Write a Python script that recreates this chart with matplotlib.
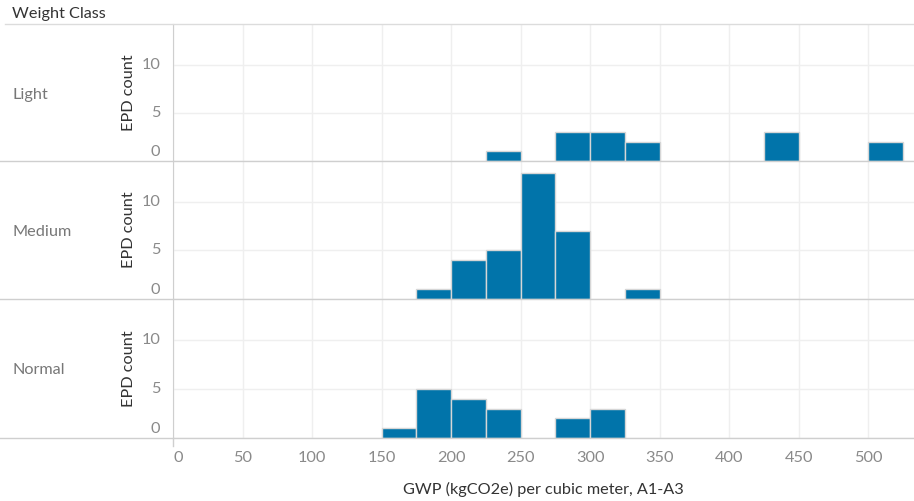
import matplotlib
matplotlib.use('Agg')
import matplotlib.pyplot as plt
from matplotlib.lines import Line2D

# bin starts (width 25) and counts per weight class
classes = ['Light', 'Medium', 'Normal']
light_bins = [225, 275, 300, 325, 425, 500]
light_counts = [1, 3, 3, 2, 3, 2]
medium_bins = [175, 200, 225, 250, 275, 325]
medium_counts = [1, 4, 5, 13, 7, 1]
normal_bins = [150, 175, 200, 225, 275, 300]
normal_counts = [1, 5, 4, 3, 2, 3]
x_ticks = list(range(0, 501, 50))
y_ticks = [0, 5, 10]

data = [(light_bins, light_counts), (medium_bins, medium_counts), (normal_bins, normal_counts)]

plt.rcParams['font.family'] = ['Lato', 'DejaVu Sans']

W, H = 914, 501
fig = plt.figure(figsize=(W / 100, H / 100), dpi=100)

bar_color = '#0174aa'
grid_color = '#efefef'
line_color = '#cfcfcf'
tick_color = '#8a8a8a'
label_size = 11.7

left_px, right_px = 173, 914
rows_px = [(24, 161), (161, 299), (299, 438)]


def fx(px):
    return px / W


def fy(py):
    return 1 - py / H


for i, ((top, bot), name, (bins, counts)) in enumerate(zip(rows_px, classes, data)):
    ax = fig.add_axes([fx(left_px), fy(bot), fx(right_px - left_px), (bot - top) / H])
    ax.bar(bins, counts, width=25, align='edge', color=bar_color,
           edgecolor='#d6d6d6', linewidth=1.0, zorder=3)
    ax.set_xlim(0, 533)
    ax.set_ylim(0, 14.2)
    ax.set_xticks(x_ticks)
    ax.set_yticks(y_ticks)
    ax.grid(True, color=grid_color, linewidth=1.0, zorder=0)
    ax.set_axisbelow(True)
    for s in ['top', 'right', 'bottom']:
        ax.spines[s].set_visible(False)
    ax.spines['left'].set_color(line_color)
    ax.tick_params(length=0)
    ax.set_yticklabels([])
    ax.set_xticklabels([])
    if i == 2:
        # x tick labels (0 nudged right like the original)
        for t in x_ticks:
            xx = t if t > 0 else 4
            ax.text(xx, -0.145, str(t), transform=ax.get_xaxis_transform(),
                    ha='center', va='center', fontsize=11.8, color=tick_color)
    # y tick labels (0 nudged up like the original)
    for t in y_ticks:
        yy = t if t > 0 else 0.9
        ax.text(-0.017, yy, str(t), transform=ax.get_yaxis_transform(),
                ha='right', va='center', fontsize=11.8, color=tick_color)
    ax.text(-0.06, 0.5, 'EPD count', transform=ax.transAxes, rotation=90,
            ha='center', va='center', fontsize=label_size, color='#333333')
    fig.text(fx(12), fy((top + bot) / 2 + 2), name, ha='left', va='center',
             fontsize=label_size, color='#777777')
    # row baseline across full width
    fig.add_artist(Line2D([0, 1], [fy(bot), fy(bot)], color=line_color, linewidth=1.0))

# header
fig.text(fx(12), fy(14), 'Weight Class', ha='left', va='center', fontsize=label_size, color='#333333')
fig.add_artist(Line2D([fx(5), 1], [fy(24), fy(24)], color='#dcdcdc', linewidth=1.0))
fig.add_artist(Line2D([fx(left_px), fx(left_px)], [fy(438), fy(446)], color=line_color, linewidth=1.0))

fig.text(fx(543), fy(489), 'GWP (kgCO2e) per cubic meter, A1-A3', ha='center', va='center',
         fontsize=label_size, color='#333333')

fig.savefig('out.png', dpi=100, facecolor='white')
